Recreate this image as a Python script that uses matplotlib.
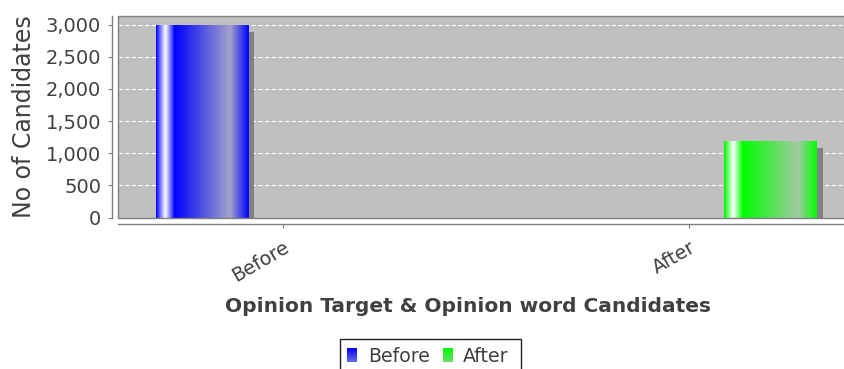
import numpy as np
import matplotlib
matplotlib.use("Agg")
import matplotlib.pyplot as plt
from matplotlib.colors import to_rgb
from matplotlib.patches import Rectangle
from matplotlib.ticker import StrMethodFormatter
from matplotlib.transforms import ScaledTranslation

# candidate counts per category, one series per phase
categories = ["Before", "After"]
series_names = ["Before", "After"]
series_values = {
    "Before": [2990, 0],
    "After": [0, 1190],
}
series_colors = {"Before": "#0000ff", "After": "#00ff00"}
y_ticks = [0, 500, 1000, 1500, 2000, 2500, 3000]

W, H = 844, 369
BG = "#c0c0c0"
TXT = "#404040"
LINE = "#808080"

plt.rcParams["font.family"] = ["DejaVu Sans"]
plt.rcParams["lines.scale_dashes"] = False


def fx(px):
    return px / W


def fy(py):
    return 1 - py / H


def bar_gradient(color, n=240):
    """Horizontal gradient: colour -> white -> colour -> faded -> colour."""
    c0 = np.array(to_rgb(color))
    faded = 0.15 * c0 + 0.85 * np.array(to_rgb(BG))
    stops = [0.0, 0.1, 0.2, 0.8, 1.0]
    cols = np.array([c0, np.ones(3), c0, faded, c0])
    t = np.linspace(0, 1, n)
    rgb = np.stack([np.interp(t, stops, cols[:, k]) for k in range(3)], axis=-1)
    return rgb[np.newaxis, :, :]


fig = plt.figure(figsize=(W / 100, H / 100), dpi=100)
fig.patch.set_facecolor("white")

# plot area runs a little past the right edge of the image
ax = fig.add_axes([fx(118), fy(217.5), (854 - 118) / W, (217.5 - 16) / H])
ax.set_facecolor(BG)
ax.set_axisbelow(True)

x = np.arange(len(categories))
bar_w = 0.227
offsets = {"Before": -0.2, "After": 0.2}
shadow = ScaledTranslation(6.5 / 100, -6.5 / 100, fig.dpi_scale_trans)

for name in series_names:
    vals = series_values[name]
    bars = ax.bar(x + offsets[name], vals, width=bar_w, color="none",
                  edgecolor="none", zorder=3)
    for rect, v in zip(bars, vals):
        if v <= 0:
            continue
        x0 = rect.get_x()
        ax.add_patch(Rectangle((x0, 0), bar_w, v, facecolor=LINE,
                               edgecolor="none", zorder=2,
                               transform=ax.transData + shadow))
        im = ax.imshow(bar_gradient(series_colors[name]),
                       extent=[x0, x0 + bar_w, 0, v], aspect="auto",
                       interpolation="bilinear", zorder=3)
        im.set_clip_path(rect)

ax.set_xlim(-0.406, 1.406)
ax.set_ylim(0, 3135)

for side in ("top", "right"):
    ax.spines[side].set_visible(False)
ax.spines["left"].set_position(("outward", 4.3))
ax.spines["bottom"].set_position(("outward", 4.7))
for side in ("left", "bottom"):
    ax.spines[side].set_color(LINE)
    ax.spines[side].set_linewidth(1)

ax.tick_params(axis="y", direction="out", length=2.9, width=0.8, color=LINE,
               labelcolor=TXT, labelsize=14, pad=5)
ax.tick_params(axis="x", direction="out", length=2.9, width=0.8, color=LINE,
               labelcolor=TXT, labelsize=13.8, pad=13)

ax.set_yticks(y_ticks)
ax.yaxis.set_major_formatter(StrMethodFormatter("{x:,.0f}"))
ax.yaxis.grid(True, color="white", linestyle=(0, (3, 1.8)), linewidth=0.8)
ax.xaxis.grid(False)

ax.set_xticks(x)
ax.set_xticklabels(categories, rotation=30, ha="right", va="center",
                   rotation_mode="anchor")
for lab in ax.get_xticklabels():
    lab.set_transform(lab.get_transform()
                      + ScaledTranslation(5 / 100, 0, fig.dpi_scale_trans))

# plot outline
ax.add_patch(Rectangle((0, 0), 1, 1, transform=ax.transAxes, fill=False,
                       edgecolor=LINE, linewidth=1, clip_on=False, zorder=5))

ax.set_ylabel("No of Candidates", fontsize=17, color=TXT)
ax.yaxis.set_label_coords(-0.112, 0.5)

fig.text(fx(468), fy(307), "Opinion Target & Opinion word Candidates",
         fontsize=14.5, fontweight="bold", color=TXT, ha="center", va="center")

# legend box along the bottom edge
fig.add_artist(Rectangle((fx(340), fy(375)), fx(521) - fx(340), fy(339) - fy(375),
                         transform=fig.transFigure, fill=False,
                         edgecolor="#222222", linewidth=1))
legend_x = {"Before": (347, 368), "After": (443, 463)}
for name in series_names:
    sx, tx = legend_x[name]
    c0 = np.array(to_rgb(series_colors[name]))
    c1 = 0.45 * c0 + 0.55 * np.array(to_rgb(BG))
    t = np.linspace(0, 1, 30)[:, None]
    sw = (1 - t) * c0 + t * c1
    sax = fig.add_axes([fx(sx), fy(362), 9.5 / W, 14 / H])
    sax.imshow(sw[:, np.newaxis, :], aspect="auto", interpolation="bilinear")
    sax.set_axis_off()
    fig.text(fx(tx), fy(356), name, fontsize=13.6, color=TXT,
             ha="left", va="center")

fig.savefig("out.png", dpi=100)
